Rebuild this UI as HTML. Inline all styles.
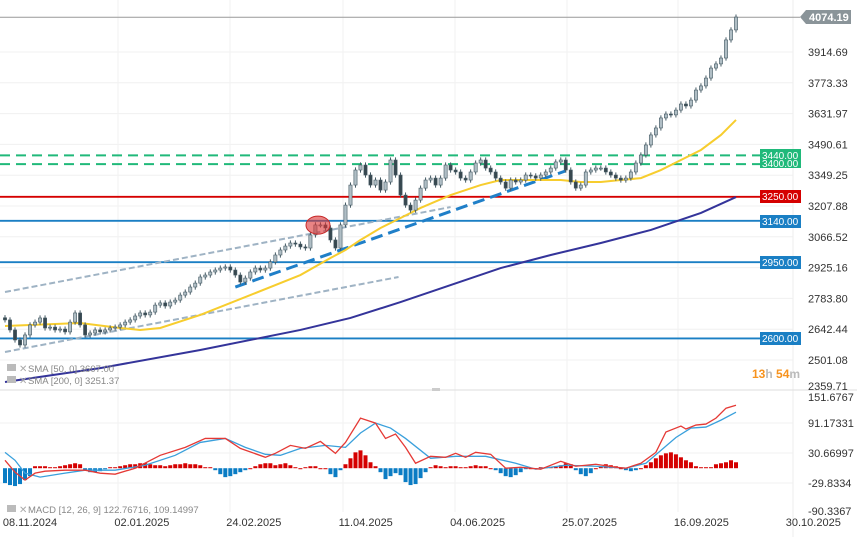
<!DOCTYPE html>
<html><head><meta charset="utf-8"><style>
body{margin:0;background:#fff;font-family:"Liberation Sans",sans-serif;}
svg{display:block}
text{font-family:"Liberation Sans",sans-serif;}
</style></head><body>
<svg id="chart" width="857" height="537" viewBox="0 0 857 537" xmlns="http://www.w3.org/2000/svg"></svg>
<script>
const closes=[2685,2639,2593,2570,2616,2662,2675,2694,2648,2652,2639,2643,2630,2675,2717,2662,2616,2625,2639,2630,2639,2648,2652,2662,2675,2685,2703,2717,2708,2721,2753,2763,2749,2767,2776,2799,2813,2836,2854,2882,2891,2905,2914,2923,2928,2914,2891,2859,2877,2905,2923,2914,2923,2951,2983,3006,3024,3038,3033,3020,3015,3075,3121,3121,3107,3052,3015,3121,3212,3304,3373,3396,3350,3304,3327,3281,3318,3419,3350,3258,3212,3189,3235,3290,3327,3336,3304,3336,3396,3373,3364,3336,3327,3364,3405,3419,3382,3364,3336,3318,3290,3327,3318,3327,3350,3346,3336,3350,3364,3382,3410,3419,3373,3318,3290,3304,3364,3373,3382,3382,3364,3350,3336,3327,3336,3364,3405,3442,3488,3534,3566,3612,3630,3626,3648,3676,3667,3694,3740,3759,3795,3841,3860,3887,3970,4016,4075];
const sma50Idx=[0,5,15,23,27,31,39,49,59,65,68,71,75,79,83,89,95,99,103,107,111,115,119,123,127,131,135,139,143,146];
const sma50=[2657,2662,2671,2648,2639,2648,2708,2799,2891,2969,3006,3052,3107,3153,3199,3258,3304,3327,3327,3327,3327,3318,3318,3327,3336,3373,3419,3465,3534,3603];
const sma200Idx=[0,19,39,59,69,79,89,99,109,119,129,139,146];
const sma200=[2400,2464,2547,2639,2694,2767,2845,2923,2983,3038,3098,3176,3249];
const hist=[-30,-34,-36,-32,-24,-16,4,4,4,2,2,4,6,8,10,8,-4,-8,-8,-6,-2,2,2,4,6,8,8,10,10,8,6,6,4,6,8,8,10,8,8,6,2,2,-4,-12,-18,-16,-12,-8,-4,0,4,8,10,10,6,8,10,6,2,0,2,4,4,0,0,-12,-18,-4,8,20,32,36,26,12,4,-8,-22,-16,-10,-14,-28,-34,-32,-20,-8,2,6,4,2,4,4,2,2,4,6,4,4,0,-4,-10,-16,-18,-14,-8,-2,0,0,2,2,2,4,6,10,8,-4,-12,-16,-10,0,4,8,6,4,0,-4,-6,-4,0,6,12,20,26,30,32,28,22,16,12,4,2,2,2,8,10,12,16,12];
const macdIdx=[0,2,4,6,8,12,16,19,22,26,31,36,40,44,47,52,54,57,60,63,66,68,71,74,76,78,80,82,85,88,90,92,94,97,100,103,107,111,114,118,122,124,127,130,132,135,136,138,140,142,144,146];
const macd=[16,-8,-24,-10,-6,-4,-4,-10,-12,0,26,42,60,60,40,22,30,46,40,54,30,52,101,91,60,69,42,10,24,22,30,22,32,28,0,2,-2,14,4,8,2,0,10,32,73,85,79,87,89,101,121,127];
const sigIdx=[0,2,4,7,12,16,22,28,34,39,44,48,52,55,59,64,68,71,74,77,80,85,90,96,102,106,112,118,124,128,134,137,140,143,146];
const signal=[32,16,-10,-18,-10,-4,-4,6,26,52,60,42,28,26,40,46,42,71,91,81,60,20,24,24,10,-2,6,4,0,10,62,81,83,97,113];
const levels=[3440,3400,3250,3140,2950,2600];
const priceTicks=["3914.69","3773.33","3631.97","3490.61","3349.25","3207.88","3066.52","2925.16","2783.80","2642.44","2501.08"];
const macdTicks=["91.17331","30.66997","-29.8334"];
const dateLabels=["08.11.2024","02.01.2025","24.02.2025","11.04.2025","04.06.2025","25.07.2025","16.09.2025","30.10.2025"];
const trendUpper=[[0,2813],[89,3203]];
const trendLower=[[0,2538],[78.6,2882]];
const trendBlue=[[46,2836],[112,3369]];

const NS="http://www.w3.org/2000/svg";
const svg=document.getElementById('chart');
function mk(t,a,p){const e=document.createElementNS(NS,t);for(const k in a)e.setAttribute(k,a[k]);(p||svg).appendChild(e);return e;}
const N=closes.length;
const X=i=>5+i*(731/(N-1));
const Y=v=>52+(3914.69-v)*30.8/141.36;
const MY=v=>453-(v-30.67)*30/60.5;

// grid
const grid=mk('g',{});
priceTicks.forEach(t=>{mk('line',{x1:0,x2:793,y1:Y(+t),y2:Y(+t),stroke:'#f0f0f0'},grid);});
macdTicks.forEach(t=>{mk('line',{x1:0,x2:793,y1:MY(+t),y2:MY(+t),stroke:'#f0f0f0'},grid);});
[118,230,343,455,567,678].forEach(x=>mk('line',{x1:x,x2:x,y1:0,y2:512,stroke:'#f2f2f2'},grid));
mk('line',{x1:793,x2:793,y1:0,y2:537,stroke:'#eee'},grid);
mk('line',{x1:0,x2:857,y1:390,y2:390,stroke:'#ddd'},grid);
mk('rect',{x:432,y:388,width:8,height:3,fill:'#ccc'},grid);

// last price line
const lp=mk('line',{x1:0,x2:800,y1:Y(4074.19),y2:Y(4074.19),stroke:'#999'});


// levels
const lvlColors={3440:'#20b97a',3400:'#20b97a',3250:'#d50000',3140:'#1a7fc4',2950:'#1a7fc4',2600:'#1a7fc4'};
levels.forEach(v=>{
  const dashed=v>=3400;
  const l=mk('line',{x1:0,x2:760,y1:Y(v),y2:Y(v),stroke:lvlColors[v],'stroke-width':dashed?2:1.8,'stroke-dasharray':dashed?'10,6':'none'});
  
  
});

// trendlines
function tl(p,color,w,dash,name){
  const l=mk('line',{x1:X(p[0][0]),y1:Y(p[0][1]),x2:X(p[1][0]),y2:Y(p[1][1]),stroke:color,'stroke-width':w,'stroke-dasharray':dash});
  
  
}
tl(trendUpper,'#9fb3c4',2,'6,3','upper-channel-line');
tl(trendLower,'#9fb3c4',2,'6,3','lower-channel-line');
tl(trendBlue,'#1f7fc8',3,'12,6','support-trendline');

// SMAs
function poly(idx,vals,color,w,name){
  const pts=idx.map((k,j)=>X(k)+','+Y(vals[j])).join(' ');
  const p=mk('polyline',{points:pts,fill:'none',stroke:color,'stroke-width':w});
  
  
}
poly(sma200Idx,sma200,'#34349a',2,'sma-200-line');
poly(sma50Idx,sma50,'#f7cd2e',2,'sma-50-line');

// candles
const cg=mk('g',{});
closes.forEach((c,i)=>{
  const o=i?closes[i-1]:c+10;
  const hi=Math.max(o,c)+12, lo=Math.min(o,c)-12;
  const up=c>=o, x=X(i);
  const g=mk('g',{},cg);
  
  
  mk('line',{x1:x,x2:x,y1:Y(hi),y2:Y(lo),stroke:'#455a64','stroke-width':1},g);
  const top=Y(Math.max(o,c)),h=Math.max(1,Math.abs(Y(o)-Y(c)));
  mk('rect',{x:x-1.6,y:top,width:3.2,height:h,fill:up?'#b0bec5':'#37474f',stroke:'#455a64','stroke-width':0.6},g);
});

// highlight ellipse
const el=mk('ellipse',{cx:318,cy:Y(3120),rx:12,ry:9,fill:'rgba(220,50,50,0.6)',stroke:'#c62828','stroke-width':1});


// histogram
const hg=mk('g',{});
const HN=hist.length;
hist.forEach((v,i)=>{
  const x=5+i*(731/(HN-1));
  const y0=MY(0),y1=MY(v);
  const b=mk('rect',{x:x-2,y:Math.min(y0,y1),width:4,height:Math.max(1,Math.abs(y1-y0)),fill:v>=0?'#d50000':'#0a7cc4'},hg);
  
  
});
function mline(idx,vals,color,name){
  const pts=idx.map((k,j)=>X(k)+','+MY(vals[j])).join(' ');
  const p=mk('polyline',{points:pts,fill:'none',stroke:color,'stroke-width':1.3});
  
  
}
mline(sigIdx,signal,'#3aa0dc','macd-signal-line');
mline(macdIdx,macd,'#e53935','macd-line');

// right axis labels
const ax=mk('g',{});
priceTicks.forEach(t=>{const e=mk('text',{x:808,y:Y(+t)+4,'font-size':11,fill:'#333'},ax);e.textContent=t;});
let t2=mk('text',{x:808,y:390,'font-size':11,fill:'#333'},ax);t2.textContent='2359.71';
const mx=mk('g',{});
let mt=mk('text',{x:808,y:401,'font-size':11,fill:'#333'},mx);mt.textContent='151.6767';
macdTicks.forEach(t=>{const e=mk('text',{x:808,y:MY(+t)+4,'font-size':11,fill:'#333'},mx);e.textContent=t;});
mt=mk('text',{x:808,y:515,'font-size':11,fill:'#333'},mx);mt.textContent='-90.3367';

// last price tag
const tag=mk('g',{});
mk('path',{d:'M800,17 L806,10 L851,10 L851,24 L806,24 Z',fill:'#8a9499'},tag);
let tt=mk('text',{x:809,y:21,'font-size':11,'font-weight':'bold',fill:'#fff'},tag);tt.textContent='4074.19';

// level tags
const lvlTag={3440:[149,'#20b97a'],3250:[190,'#d50000'],3140:[215,'#1a7fc4'],2950:[256,'#1a7fc4'],2600:[332,'#1a7fc4']};
for(const k in lvlTag){
  const [y,c]=lvlTag[k];
  const g=mk('g',{});
  
  
  mk('rect',{x:760,y:y,width:41,height:k==3440?19:13,fill:c},g);
  const e=mk('text',{x:762,y:y+10,'font-size':10,fill:'#fff'},g);e.textContent=(+k).toFixed(2);
  if(k==3440){const e2=mk('text',{x:762,y:y+18,'font-size':10,fill:'#fff'},g);e2.textContent='3400.00';}
}

// timer
const tm=mk('text',{x:752,y:378,'font-size':12,'font-weight':'bold',fill:'#f7931e'});

tm.innerHTML='13<tspan fill="#bbb">h</tspan> 54<tspan fill="#bbb">m</tspan>';

// legends
function legend(y,txt,name){
  const g=mk('g',{});
  
  
  mk('rect',{x:7,y:y-8,width:9,height:7,fill:'#bbb'},g);
  const x=mk('text',{x:19,y:y,'font-size':10,fill:'#aaa'},g);x.textContent='✕';
  const e=mk('text',{x:28,y:y,'font-size':9.5,fill:'#888'},g);e.textContent=txt;
}
legend(372,'SMA [50, 0] 3607.00','sma-50-legend');
legend(384,'SMA [200, 0] 3251.37','sma-200-legend');
legend(513,'MACD [12, 26, 9] 122.76716,  109.14997','macd-legend');

// dates
const dg=mk('g',{});
dateLabels.forEach((d,i)=>{const e=mk('text',{x:30+i*111.9,y:526,'font-size':11,fill:'#333','text-anchor':'middle'},dg);e.textContent=d;});
</script>
</body></html>
